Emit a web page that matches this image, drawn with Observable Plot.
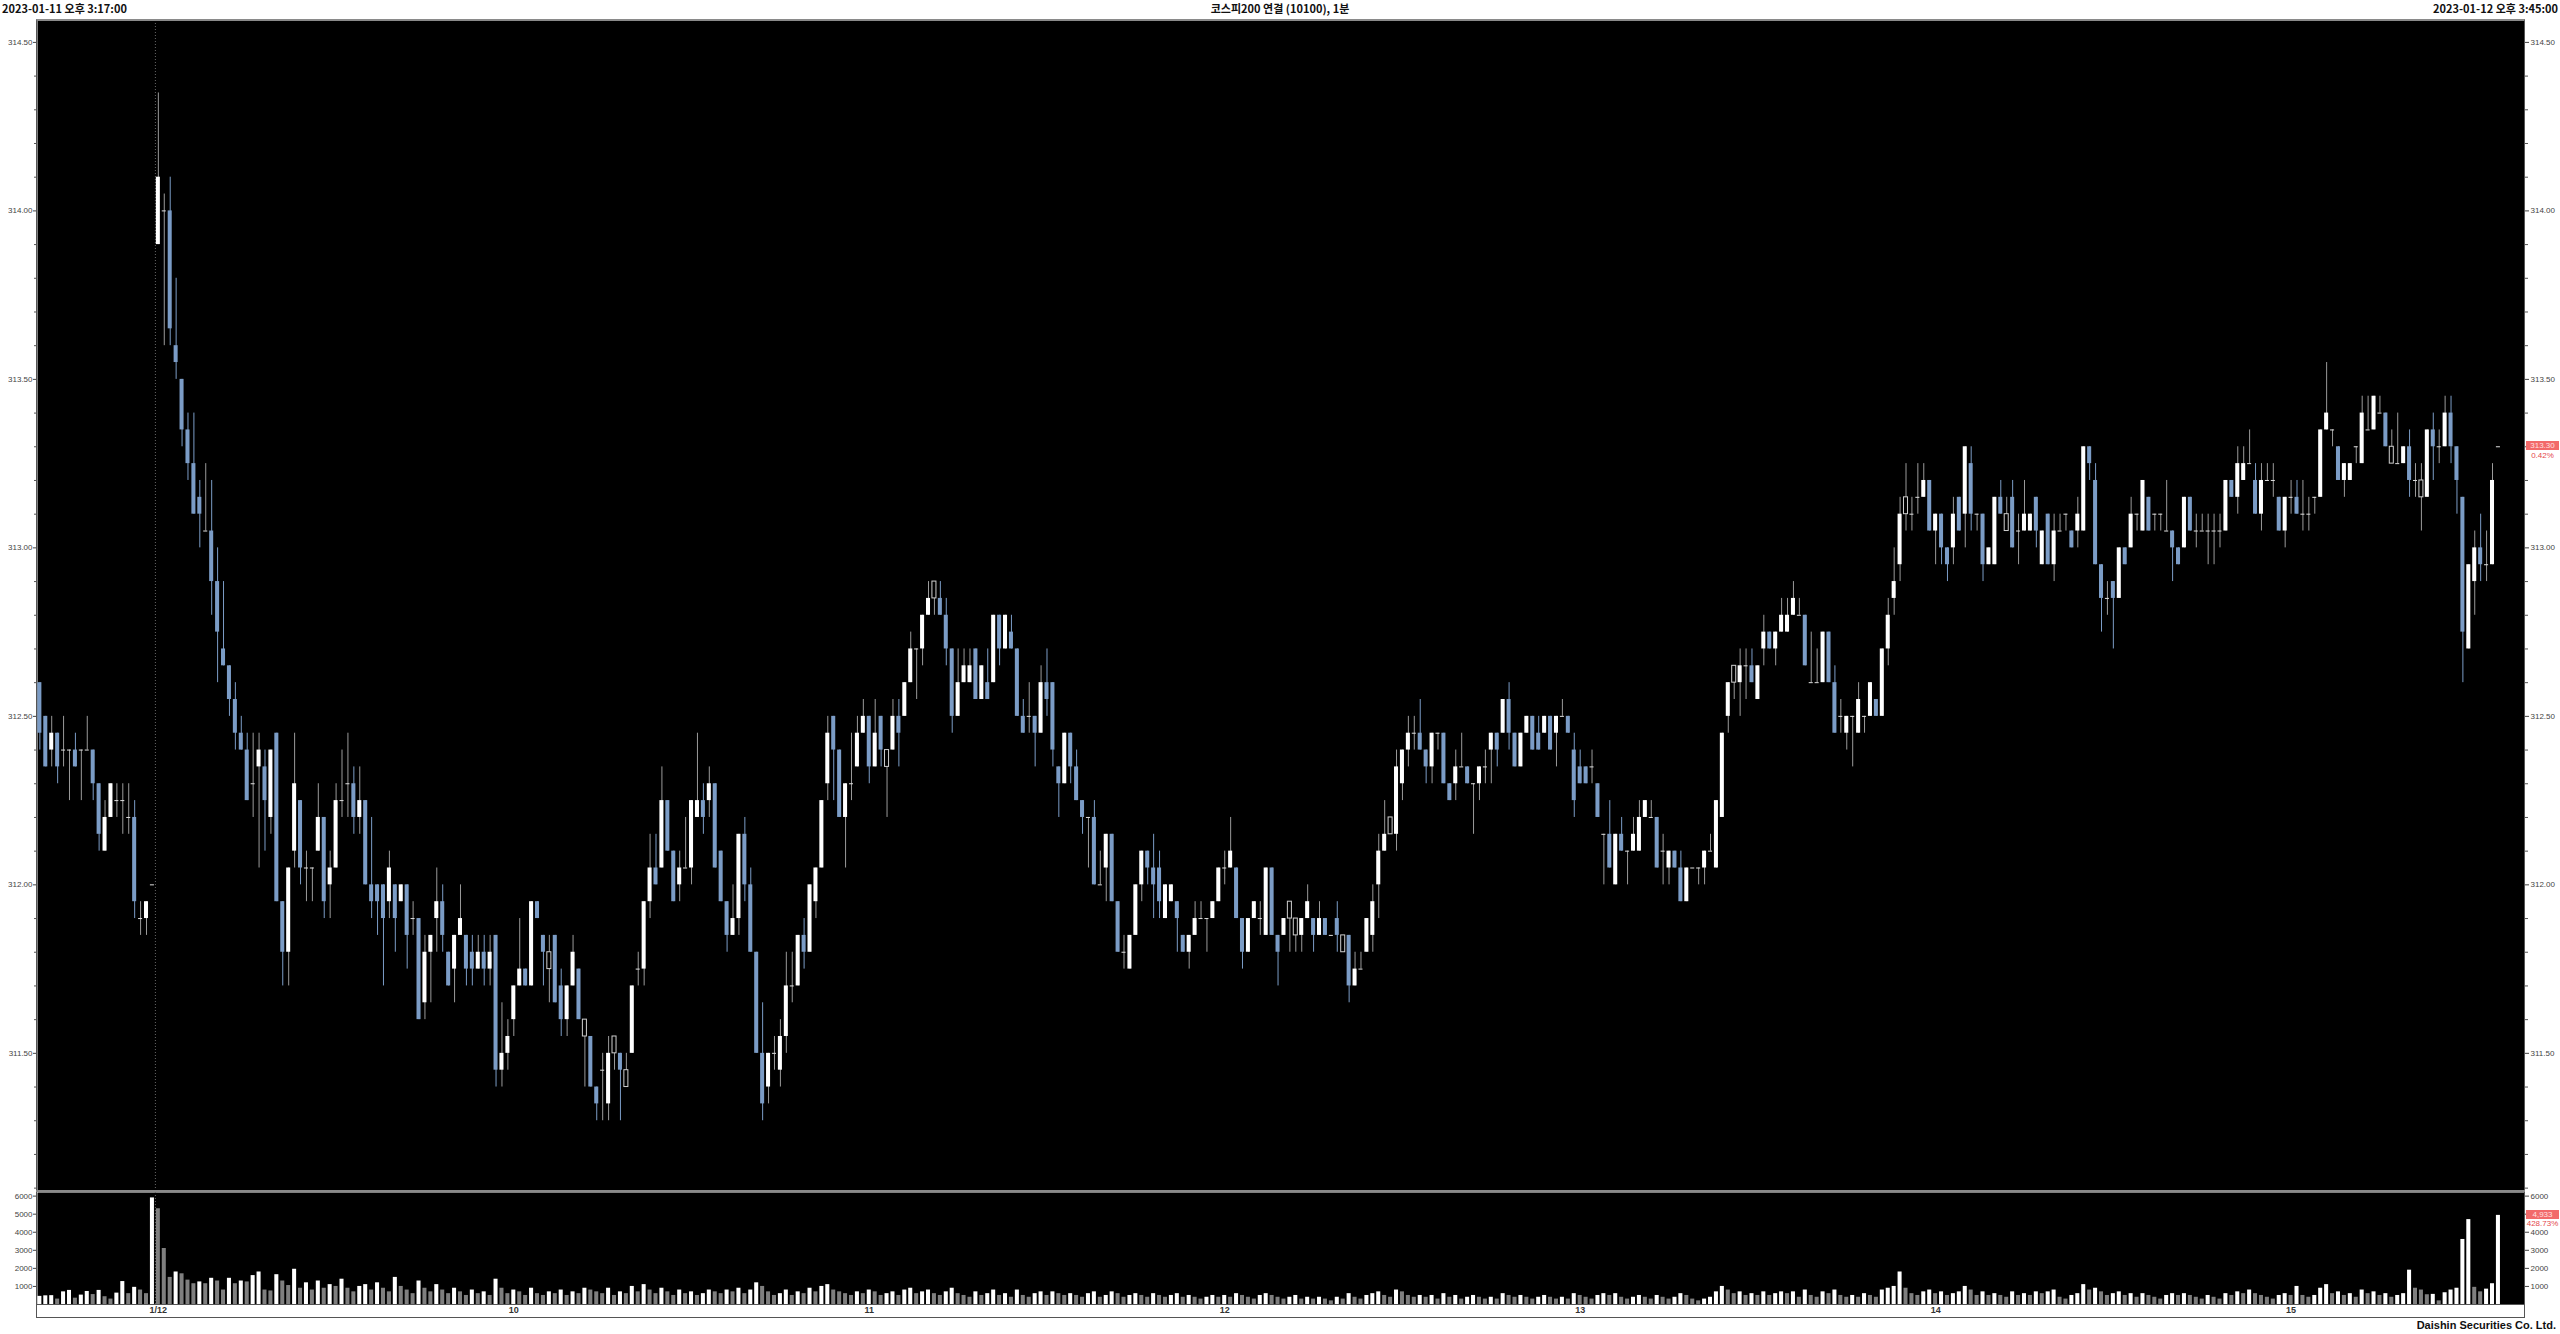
<!DOCTYPE html>
<html><head><meta charset="utf-8">
<script src="https://cdn.jsdelivr.net/npm/d3@7"></script>
<script src="https://cdn.jsdelivr.net/npm/@observablehq/plot@0.6"></script>
<style>
html,body{margin:0;padding:0;background:#fff;}
body{width:2560px;height:1334px;position:relative;overflow:hidden;font-family:"Liberation Sans","DejaVu Sans",sans-serif;}
.hdr{position:absolute;top:1px;font:bold 11px "Noto Sans CJK KR","Liberation Sans",sans-serif;color:#111;white-space:nowrap;line-height:14px;}
#price,#volume{position:absolute;left:0;}
#price{top:20px;} #volume{top:1191px;}
#frame{position:absolute;left:36px;top:19px;width:2489px;height:1299px;box-sizing:border-box;border:1px solid #555;border-top:2px solid #8a8a8a;pointer-events:none;}
#sep{position:absolute;left:36px;top:1190px;width:2489px;height:2px;background:#8a8a8a;}
#footer{position:absolute;right:4px;top:1319px;font:bold 11px "Liberation Sans","DejaVu Sans",sans-serif;color:#111;}
.tag{position:absolute;left:2526px;width:33px;height:9px;background:#f26a6a;color:#ffe0e0;font:8px "Liberation Sans",sans-serif;line-height:9px;text-align:center;}
.pct{position:absolute;left:2526px;width:33px;color:#e5484d;font:8px "Liberation Sans",sans-serif;text-align:center;line-height:9px;}
</style></head><body>
<div class="hdr" id="hl" style="left:2px">2023-01-11 오후 3:17:00</div>
<div class="hdr" id="title" style="left:0;width:2560px;text-align:center">코스피200 연결 (10100), 1분</div>
<div class="hdr" id="hr" style="right:2px">2023-01-12 오후 3:45:00</div>
<div id="price"></div>
<div id="volume"></div>
<div id="frame"></div>
<div id="sep"></div>
<div id="footer">Daishin Securities Co. Ltd.</div>
<script>
// ---------- DATA ----------
// 2023-01-11 tail (open, high, low, close)
const ohlc11 = [
[312.60,312.60,312.40,312.45],[312.50,312.50,312.35,312.35],[312.40,312.50,312.35,312.45],[312.45,312.45,312.30,312.35],
[312.40,312.50,312.35,312.40],[312.40,312.40,312.25,312.40],[312.40,312.45,312.35,312.35],[312.40,312.40,312.25,312.40],
[312.40,312.50,312.40,312.40],[312.40,312.40,312.25,312.30],[312.30,312.30,312.10,312.15],[312.10,312.25,312.10,312.20],
[312.20,312.30,312.20,312.30],[312.25,312.30,312.20,312.25],[312.25,312.30,312.15,312.25],[312.20,312.30,312.15,312.20],
[312.20,312.25,311.90,311.95],[311.90,311.95,311.85,311.90],[311.90,311.95,311.85,311.95],[312.00,312.00,312.00,312.00]
];
const volume11 = [450,480,490,300,700,780,350,520,720,550,780,430,300,630,1270,600,950,800,600,5900];

// 2023-01-12 (open, high, low, close), one row per minute
const ohlc12 = [
[313.90,314.35,313.90,314.10],[314.00,314.05,313.60,314.00],[314.00,314.10,313.60,313.65],[313.60,313.80,313.50,313.55],[313.50,313.50,313.30,313.35],
[313.35,313.40,313.20,313.25],[313.25,313.40,313.10,313.10],[313.15,313.20,313.00,313.10],[313.05,313.25,313.05,313.05],[313.05,313.20,312.80,312.90],
[312.90,313.00,312.60,312.75],[312.70,312.90,312.65,312.65],[312.65,312.65,312.50,312.55],[312.55,312.60,312.40,312.45],[312.45,312.50,312.40,312.40],
[312.40,312.45,312.25,312.25],[312.30,312.45,312.20,312.30],[312.35,312.45,312.05,312.40],[312.35,312.40,312.10,312.25],[312.20,312.40,312.15,312.40],
[312.45,312.45,311.95,311.95],[311.95,311.95,311.70,311.80],[311.80,312.05,311.70,312.05],[312.10,312.45,312.05,312.30],[312.25,312.25,312.00,312.05],
[312.05,312.10,311.95,312.05],[312.05,312.05,311.95,312.05],[312.10,312.30,312.10,312.20],[312.20,312.20,311.90,311.95],[312.00,312.10,311.90,312.05],
[312.05,312.30,312.05,312.25],[312.25,312.40,312.20,312.25],[312.30,312.45,312.20,312.30],[312.30,312.35,312.15,312.20],[312.20,312.35,312.15,312.25],
[312.25,312.25,312.00,312.00],[312.00,312.20,311.90,311.95],[312.00,312.00,311.85,311.95],[312.00,312.00,311.70,311.90],[311.95,312.10,311.90,312.05],
[312.00,312.00,311.80,311.90],[311.95,312.00,311.95,312.00],[312.00,312.00,311.75,311.85],[311.90,311.95,311.85,311.90],[311.90,311.90,311.60,311.60],
[311.65,311.85,311.60,311.80],[311.80,311.85,311.65,311.85],[311.90,312.05,311.80,311.95],[311.95,312.00,311.80,311.85],[311.80,311.80,311.70,311.70],
[311.75,311.85,311.65,311.85],[311.85,312.00,311.85,311.90],[311.85,311.85,311.70,311.75],[311.80,311.85,311.70,311.75],[311.75,311.85,311.75,311.80],
[311.80,311.85,311.70,311.75],[311.75,311.85,311.70,311.80],[311.85,311.85,311.40,311.45],[311.45,311.65,311.40,311.50],[311.50,311.60,311.45,311.55],
[311.60,311.70,311.55,311.70],[311.70,311.90,311.70,311.75],[311.75,311.75,311.70,311.70],[311.70,311.95,311.70,311.95],[311.95,311.95,311.90,311.90],
[311.85,311.85,311.70,311.80],[311.75,311.85,311.65,311.80],[311.85,311.85,311.65,311.65],[311.70,311.75,311.55,311.60],[311.60,311.70,311.55,311.70],
[311.70,311.85,311.70,311.80],[311.75,311.75,311.60,311.60],[311.55,311.60,311.40,311.60],[311.55,311.55,311.40,311.40],[311.40,311.40,311.30,311.35],
[311.45,311.50,311.30,311.45],[311.35,311.55,311.30,311.50],[311.50,311.55,311.45,311.55],[311.50,311.50,311.30,311.45],[311.40,311.50,311.40,311.45],
[311.50,311.70,311.50,311.70],[311.75,311.80,311.70,311.75],[311.75,311.95,311.70,311.95],[311.95,312.15,311.90,312.05],[312.05,312.15,312.00,312.00],
[312.05,312.35,312.05,312.25],[312.25,312.25,312.10,312.10],[312.10,312.10,311.95,311.95],[312.00,312.10,311.95,312.05],[312.05,312.20,312.05,312.05],
[312.05,312.25,312.00,312.25],[312.20,312.45,312.20,312.25],[312.25,312.30,312.15,312.20],[312.25,312.35,312.20,312.30],[312.30,312.30,312.05,312.05],
[312.10,312.10,311.95,311.95],[311.95,311.95,311.80,311.85],[311.85,312.00,311.85,311.90],[311.90,312.15,311.85,312.15],[312.15,312.20,311.95,312.00],
[312.00,312.05,311.80,311.80],[311.80,311.80,311.50,311.50],[311.50,311.65,311.30,311.35],[311.40,311.50,311.35,311.50],[311.50,311.55,311.45,311.50],
[311.45,311.60,311.40,311.55],[311.55,311.80,311.50,311.70],[311.70,311.80,311.65,311.70],[311.70,311.85,311.70,311.85],[311.85,311.90,311.75,311.80],
[311.80,312.00,311.80,312.00],[311.95,312.05,311.90,312.05],[312.05,312.25,312.05,312.25],[312.30,312.50,312.25,312.45],[312.50,312.50,312.25,312.40],
[312.40,312.40,312.20,312.20],[312.20,312.30,312.05,312.30],[312.30,312.45,312.25,312.30],[312.35,312.50,312.35,312.45],[312.45,312.55,312.45,312.50],
[312.50,312.50,312.30,312.35],[312.35,312.55,312.35,312.45],[312.50,312.50,312.35,312.40],[312.35,312.40,312.20,312.40],[312.40,312.55,312.40,312.50],
[312.50,312.55,312.35,312.45],[312.50,312.60,312.50,312.60],[312.60,312.75,312.60,312.70],[312.70,312.70,312.55,312.70],[312.70,312.80,312.65,312.80],
[312.80,312.90,312.80,312.85],[312.85,312.90,312.80,312.90],[312.85,312.90,312.80,312.80],[312.80,312.85,312.65,312.70],[312.70,312.70,312.45,312.50],
[312.50,312.70,312.50,312.60],[312.60,312.70,312.60,312.65],[312.60,312.70,312.60,312.65],[312.70,312.70,312.55,312.55],[312.55,312.65,312.55,312.65],
[312.60,312.70,312.55,312.55],[312.60,312.80,312.60,312.80],[312.80,312.80,312.65,312.70],[312.70,312.80,312.70,312.80],[312.75,312.80,312.70,312.70],
[312.70,312.70,312.50,312.50],[312.50,312.55,312.45,312.45],[312.50,312.60,312.45,312.50],[312.50,312.50,312.35,312.45],[312.45,312.65,312.45,312.60],
[312.60,312.70,312.50,312.55],[312.60,312.60,312.35,312.40],[312.35,312.35,312.20,312.30],[312.30,312.45,312.30,312.45],[312.45,312.45,312.30,312.35],
[312.35,312.40,312.25,312.25],[312.25,312.25,312.15,312.20],[312.20,312.20,312.05,312.20],[312.20,312.25,312.00,312.00],[312.00,312.10,312.00,312.00],
[312.05,312.15,311.95,312.15],[312.15,312.15,311.95,311.95],[311.95,311.95,311.80,311.80],[311.80,311.85,311.75,311.80],[311.75,311.85,311.75,311.85],
[311.85,312.00,311.85,312.00],[312.00,312.10,311.95,312.10],[312.10,312.10,312.00,312.05],[312.05,312.15,311.90,312.00],[312.05,312.10,311.90,311.95],
[311.90,312.00,311.90,312.00],[311.95,312.00,311.95,312.00],[311.95,311.95,311.80,311.90],[311.85,311.85,311.80,311.80],[311.80,311.85,311.75,311.85],
[311.85,311.95,311.85,311.90],[311.90,311.95,311.90,311.90],[311.90,311.90,311.80,311.90],[311.90,311.95,311.90,311.95],[311.95,312.05,311.95,312.05],
[312.05,312.10,312.00,312.05],[312.05,312.20,312.05,312.10],[312.05,312.05,311.90,311.90],[311.90,311.90,311.75,311.80],[311.80,311.90,311.80,311.90],
[311.90,311.95,311.90,311.95],[311.90,311.95,311.85,311.90],[311.85,312.05,311.85,312.05],[312.05,312.05,311.85,311.85],[311.85,311.85,311.70,311.80],
[311.85,311.90,311.85,311.90],[311.90,311.95,311.80,311.95],[311.85,311.90,311.80,311.90],[311.85,311.90,311.80,311.90],[311.90,312.00,311.90,311.95],
[311.90,311.90,311.80,311.85],[311.85,311.95,311.85,311.90],[311.90,311.90,311.85,311.85],[311.85,311.85,311.85,311.85],[311.90,311.95,311.80,311.85],
[311.80,311.85,311.80,311.85],[311.85,311.85,311.65,311.70],[311.70,311.80,311.70,311.75],[311.75,311.80,311.75,311.75],[311.80,311.90,311.80,311.90],
[311.85,312.00,311.80,311.95],[312.00,312.15,311.90,312.10],[312.10,312.25,312.10,312.15],[312.15,312.20,312.15,312.20],[312.15,312.40,312.10,312.35],
[312.30,312.40,312.25,312.40],[312.40,312.50,312.35,312.45],[312.45,312.50,312.40,312.45],[312.45,312.55,312.40,312.40],[312.40,312.40,312.30,312.35],
[312.35,312.45,312.30,312.45],[312.45,312.45,312.40,312.45],[312.45,312.45,312.30,312.30],[312.30,312.30,312.25,312.25],[312.30,312.40,312.25,312.35],
[312.35,312.45,312.35,312.35],[312.35,312.35,312.30,312.30],[312.30,312.30,312.15,312.30],[312.30,312.35,312.25,312.35],[312.35,312.40,312.30,312.35],
[312.40,312.45,312.30,312.45],[312.45,312.45,312.35,312.40],[312.45,312.55,312.45,312.55],[312.55,312.60,312.40,312.45],[312.45,312.45,312.35,312.35],
[312.35,312.45,312.35,312.45],[312.45,312.50,312.45,312.50],[312.50,312.50,312.40,312.40],[312.45,312.50,312.40,312.40],[312.45,312.50,312.45,312.50],
[312.50,312.50,312.40,312.40],[312.45,312.50,312.35,312.50],[312.50,312.55,312.50,312.50],[312.50,312.50,312.45,312.45],[312.40,312.45,312.20,312.25],
[312.35,312.40,312.30,312.30],[312.35,312.35,312.30,312.30],[312.35,312.40,312.30,312.35],[312.30,312.30,312.20,312.20],[312.15,312.15,312.00,312.15],
[312.15,312.25,312.05,312.05],[312.00,312.15,312.00,312.15],[312.15,312.20,312.10,312.10],[312.10,312.10,312.00,312.10],[312.10,312.20,312.10,312.15],
[312.10,312.25,312.10,312.20],[312.20,312.25,312.20,312.25],[312.20,312.25,312.20,312.20],[312.20,312.20,312.05,312.05],[312.10,312.15,312.00,312.10],
[312.05,312.10,312.00,312.10],[312.10,312.10,312.05,312.05],[312.05,312.10,311.95,311.95],[311.95,312.05,311.95,312.05],[312.05,312.05,312.05,312.05],
[312.05,312.05,312.00,312.05],[312.05,312.10,312.00,312.10],[312.10,312.15,312.10,312.10],[312.05,312.25,312.05,312.25],[312.20,312.45,312.20,312.45],
[312.50,312.60,312.45,312.60],[312.60,312.65,312.55,312.65],[312.60,312.70,312.50,312.65],[312.65,312.70,312.55,312.65],[312.65,312.70,312.60,312.60],
[312.55,312.65,312.55,312.65],[312.70,312.80,312.65,312.75],[312.75,312.75,312.70,312.70],[312.70,312.75,312.65,312.75],[312.75,312.85,312.75,312.80],
[312.75,312.85,312.75,312.80],[312.80,312.90,312.80,312.85],[312.80,312.85,312.80,312.80],[312.80,312.80,312.65,312.65],[312.60,312.75,312.60,312.60],
[312.60,312.70,312.60,312.60],[312.60,312.75,312.60,312.75],[312.75,312.75,312.60,312.60],[312.60,312.65,312.45,312.45],[312.50,312.55,312.45,312.50],
[312.45,312.50,312.40,312.50],[312.50,312.50,312.35,312.50],[312.45,312.60,312.45,312.55],[312.50,312.50,312.45,312.50],[312.50,312.60,312.50,312.60],
[312.55,312.55,312.50,312.50],[312.50,312.70,312.50,312.70],[312.70,312.85,312.65,312.80],[312.85,313.00,312.80,312.90],[312.95,313.15,312.90,313.10],
[313.10,313.25,313.05,313.15],[313.10,313.15,313.05,313.10],[313.15,313.25,313.10,313.15],[313.15,313.25,313.15,313.20],[313.20,313.20,313.05,313.05],
[313.05,313.10,312.95,313.10],[313.10,313.10,312.95,313.00],[313.00,313.00,312.90,312.95],[313.00,313.15,312.95,313.10],[313.15,313.15,313.05,313.05],
[313.10,313.30,313.00,313.30],[313.25,313.30,313.05,313.10],[313.10,313.10,313.05,313.10],[313.10,313.10,312.90,312.95],[312.95,313.00,312.95,313.00],
[312.95,313.15,312.95,313.15],[313.15,313.20,313.10,313.10],[313.05,313.15,313.05,313.10],[313.15,313.20,313.00,313.00],[313.05,313.10,312.95,313.05],
[313.05,313.20,313.05,313.10],[313.05,313.10,313.05,313.10],[313.15,313.15,313.00,313.05],[312.95,313.05,312.95,313.05],[313.10,313.10,312.95,312.95],
[312.95,313.10,312.90,313.05],[313.05,313.10,313.05,313.05],[313.10,313.10,313.05,313.10],[313.05,313.05,313.00,313.00],[313.05,313.15,313.00,313.10],
[313.05,313.30,313.05,313.30],[313.30,313.30,313.20,313.25],[313.20,313.25,312.95,312.95],[312.95,312.95,312.75,312.85],[312.85,312.90,312.80,312.85],
[312.90,312.90,312.70,312.85],[312.85,313.00,312.85,313.00],[313.00,313.00,312.95,312.95],[313.00,313.15,313.00,313.10],[313.10,313.10,313.05,313.10],
[313.05,313.20,313.05,313.20],[313.15,313.15,313.05,313.05],[313.10,313.10,313.05,313.10],[313.10,313.10,313.05,313.10],[313.05,313.20,313.05,313.05],
[313.05,313.05,312.90,313.00],[313.00,313.00,312.95,312.95],[313.00,313.15,313.00,313.15],[313.15,313.15,313.05,313.05],[313.05,313.10,313.00,313.05],
[313.05,313.10,313.05,313.05],[313.05,313.10,312.95,313.05],[313.05,313.10,312.95,313.05],[313.05,313.10,313.00,313.05],[313.05,313.20,313.05,313.20],
[313.20,313.20,313.15,313.15],[313.15,313.30,313.10,313.25],[313.20,313.30,313.20,313.25],[313.25,313.35,313.25,313.25],[313.20,313.25,313.10,313.10],
[313.10,313.25,313.05,313.20],[313.20,313.25,313.20,313.20],[313.20,313.25,313.15,313.20],[313.15,313.15,313.05,313.05],[313.05,313.15,313.00,313.15],
[313.15,313.20,313.10,313.15],[313.15,313.20,313.10,313.10],[313.10,313.20,313.05,313.10],[313.10,313.15,313.05,313.10],[313.15,313.15,313.10,313.15],
[313.15,313.35,313.15,313.35],[313.35,313.55,313.35,313.40],[313.35,313.35,313.30,313.35],[313.30,313.30,313.20,313.20],[313.20,313.25,313.15,313.25],
[313.20,313.25,313.20,313.25],[313.30,313.30,313.25,313.30],[313.25,313.45,313.25,313.40],[313.35,313.45,313.35,313.35],[313.35,313.45,313.35,313.45],
[313.40,313.45,313.40,313.40],[313.40,313.40,313.30,313.30],[313.25,313.35,313.25,313.30],[313.25,313.40,313.25,313.25],[313.25,313.30,313.25,313.30],
[313.30,313.35,313.15,313.20],[313.20,313.25,313.15,313.20],[313.15,313.25,313.05,313.20],[313.15,313.35,313.15,313.35],[313.35,313.40,313.20,313.30],
[313.30,313.35,313.25,313.30],[313.30,313.45,313.30,313.40],[313.40,313.45,313.25,313.30],[313.30,313.30,313.10,313.20],[313.15,313.15,312.60,312.75],
[312.70,312.95,312.70,312.95],[312.90,313.05,312.80,313.00],[313.00,313.10,312.90,312.95],[312.95,313.05,312.90,312.95],[312.95,313.25,312.95,313.20],
[313.30,313.30,313.30,313.30]
];
const volume12 = [
5300,3100,1500,1800,1700,1350,1150,1250,1150,1450, 1300,800,1450,1150,1300,1250,1600,1800,800,750,
1650,1300,1050,1950,900,1200,800,1300,900,1100, 1000,1400,900,700,1000,1100,800,1200,900,700,
1500,1000,800,600,1300,900,700,1100,800,600, 900,700,500,800,600,700,500,1400,900,600,
800,700,500,900,600,500,700,600,800,500, 700,600,900,800,700,600,900,500,700,600,
1000,700,1100,800,600,900,700,500,800,600, 700,500,600,800,700,600,800,700,900,600,
800,1200,1000,700,500,600,800,500,700,600, 900,700,1000,1100,800,700,600,500,700,600,
800,700,500,600,700,500,800,900,600,700, 800,600,500,700,900,600,500,400,700,500,
600,800,500,600,400,800,500,400,600,700, 500,700,600,500,600,500,400,600,700,400,
500,700,600,400,500,600,500,400,600,500, 400,500,600,400,500,400,300,400,500,400,
500,400,600,500,400,300,500,600,500,400, 300,400,500,300,400,300,400,300,200,400,
300,600,400,300,500,600,700,500,400,800, 700,500,400,500,400,500,300,600,400,500,
300,400,500,400,300,400,300,600,500,400, 500,400,300,400,500,400,300,400,300,600,
500,400,300,500,600,500,600,400,300,400, 500,400,300,500,400,300,400,600,500,300,
200,300,400,700,1000,800,600,700,500,600, 500,700,500,600,700,600,700,400,800,500,
400,700,600,800,500,400,500,400,600,500, 400,800,900,1000,1800,900,600,500,700,800,
600,700,500,600,700,1000,800,500,700,500, 600,500,400,700,500,600,500,700,600,700,
800,400,300,500,600,1100,800,900,700,500, 600,700,500,600,400,600,500,400,300,500,
600,500,600,500,400,300,500,400,300,600, 500,700,600,800,600,500,400,300,500,600,
500,1000,500,400,500,900,1100,600,700,500, 600,400,800,600,700,500,600,400,500,600,
1900,900,800,540,560,200,650,800,900,3600, 4700,950,700,850,1150,4933
];
const hollow12 = [66,72,77,79,123,131,191,192,200,208,266,295,312,377,382];

const priceTicks = [311.50, 312.00, 312.50, 313.00, 313.50, 314.00, 314.50];
const priceMinorTicks = [311.1,311.2,311.3,311.4,311.6,311.7,311.8,311.9,312.1,312.2,312.3,312.4,312.6,312.7,312.8,312.9,
  313.1,313.2,313.3,313.4,313.6,313.7,313.8,313.9,314.1,314.2,314.3,314.4];
const volumeTicks = [1000, 2000, 3000, 4000, 5000, 6000];
const timeTickBars = [0, 60, 120, 180, 240, 300, 360];
const timeTickLabels = ["1/12", "10", "11", "12", "13", "14", "15"];
const lastPrice = {value: 313.30, change: "0.42%"};
const lastVolume = {value: "4,933", change: "428.73%"};

// ---------- BUILD ----------
const bars = [];
ohlc11.forEach((b, k) => bars.push({i: k - ohlc11.length, o: b[0], h: b[1], l: b[2], c: b[3], v: volume11[k], hollow: false}));
ohlc12.forEach((b, k) => bars.push({i: k, o: b[0], h: b[1], l: b[2], c: b[3], v: volume12[k], hollow: hollow12.includes(k)}));
bars.forEach((d, j) => {
  d.h = Math.max(d.h, d.o, d.c); d.l = Math.min(d.l, d.o, d.c);
  d.kind = d.c > d.o ? "up" : d.c < d.o ? "down" : "flat";
  d.volUp = j === 0 || d.v > bars[j - 1].v;
});
const daySep = [-0.5]; // between last 1/11 bar and first 1/12 bar
const half = 0.34;
const BLUE = "#7b9cc6";
const xDomain = [-20.4, 399.4];

const bodies = bars.filter(d => d.kind !== "flat");
const flats = bars.filter(d => d.kind === "flat");

const font = {fontFamily: "'Liberation Sans','DejaVu Sans',sans-serif", fontSize: "8px", background: "transparent", overflow: "visible"};

const price = Plot.plot({
  width: 2560, height: 1171,
  marginLeft: 37, marginRight: 36, marginTop: 0, marginBottom: 0,
  style: font,
  x: {domain: xDomain, axis: null, label: null},
  y: {domain: [311.09, 314.565], axis: null, label: null},
  marks: [
    Plot.frame({fill: "#000"}),
    Plot.ruleX(daySep, {stroke: "#666", strokeDasharray: "1,2"}),
    Plot.axisY({anchor: "left", label: null, ticks: priceMinorTicks, tickFormat: () => "", tickSize: 3, color: "#555"}),
    Plot.axisY({anchor: "left", label: null, ticks: priceTicks, tickFormat: d => d.toFixed(2), tickSize: 4, tickPadding: 1, color: "#444"}),
    Plot.axisY({anchor: "right", label: null, ticks: priceMinorTicks, tickFormat: () => "", tickSize: 3, color: "#555"}),
    Plot.axisY({anchor: "right", label: null, ticks: priceTicks, tickFormat: d => d.toFixed(2), tickSize: 4, tickPadding: 2, color: "#444"}),
    Plot.ruleX(bars, {x: "i", y1: "l", y2: "h", stroke: d => d.kind === "down" ? BLUE : "#9a9a9a", strokeWidth: 1}),
    Plot.rect(bodies, {x1: d => d.i - half, x2: d => d.i + half, y1: "o", y2: "c",
      fill: d => d.hollow ? "#000" : d.kind === "up" ? "#ffffff" : BLUE,
      stroke: d => d.hollow ? "#cfcfcf" : "none", strokeWidth: 1}),
    Plot.ruleY(flats, {y: "c", x1: d => d.i - half, x2: d => d.i + half, stroke: "#e0e0e0", strokeWidth: 1})
  ]
});
document.getElementById("price").append(price);

const volume = Plot.plot({
  width: 2560, height: 127,
  marginLeft: 37, marginRight: 36, marginTop: 1, marginBottom: 14,
  style: font,
  x: {domain: xDomain, axis: null, label: null},
  y: {domain: [0, 6200], axis: null, label: null},
  marks: [
    Plot.frame({fill: "#000"}),
    Plot.ruleX(daySep, {stroke: "#666", strokeDasharray: "1,2", y1: 0, y2: 6200}),
    Plot.rect(bars, {x1: d => d.i - half, x2: d => d.i + half, y1: 0, y2: "v", fill: d => d.volUp ? "#ffffff" : "#7f7f7f"}),
    Plot.axisY({anchor: "left", label: null, ticks: volumeTicks, tickFormat: d => String(d), tickSize: 4, tickPadding: 1, color: "#444"}),
    Plot.axisY({anchor: "right", label: null, ticks: volumeTicks, tickFormat: d => String(d), tickSize: 4, tickPadding: 2, color: "#444"}),
    Plot.axisX({label: null, ticks: timeTickBars, tickFormat: d => timeTickLabels[timeTickBars.indexOf(d)], tickSize: 0, tickPadding: 2,
      fontSize: 9, fontWeight: "bold", color: "#333"}),
    Plot.ruleY([0], {stroke: "#555"})
  ]
});
document.getElementById("volume").append(volume);

// last-value tags on the right axis
const py = 20 + price.scale("y").apply(lastPrice.value);
const t1 = document.createElement("div"); t1.className = "tag"; t1.style.top = (py - 5) + "px"; t1.textContent = lastPrice.value.toFixed(2);
const p1 = document.createElement("div"); p1.className = "pct"; p1.style.top = (py + 5) + "px"; p1.textContent = lastPrice.change;
const vy = 1191 + volume.scale("y").apply(4933);
const t2 = document.createElement("div"); t2.className = "tag"; t2.style.top = (vy - 5) + "px"; t2.textContent = lastVolume.value;
const p2 = document.createElement("div"); p2.className = "pct"; p2.style.top = (vy + 4) + "px"; p2.textContent = lastVolume.change;
document.body.append(t1, p1, t2, p2);
</script>
</body></html>
